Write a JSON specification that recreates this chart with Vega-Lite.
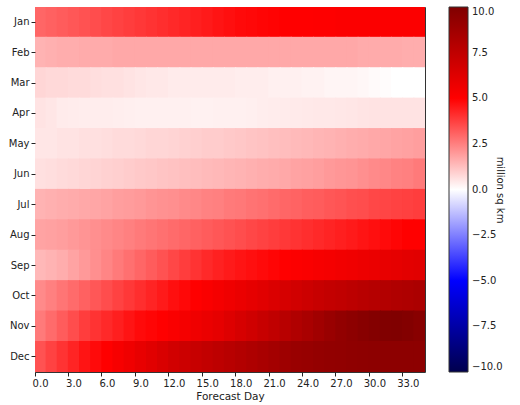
{
"$schema":"https://vega.github.io/schema/vega-lite/v6.json",
"width":390,"height":365,
"autosize":{"type":"none"},
"padding":{"left":35,"top":7,"right":95,"bottom":33},
"background":"white",
"config":{"font":"DejaVu Sans","view":{"stroke":"#333","strokeWidth":1},
"axis":{"grid":false,"domain":false,"tickColor":"#222","tickSize":4,"labelFontSize":10,"labelColor":"#222","titleFontSize":10.5,"titleFontWeight":"normal","titleColor":"#222"}},
"title":{"text":"SIE CFSv2 minus OBS","fontSize":14,"fontWeight":"bold","anchor":"middle","baseline":"alphabetic","offset":3,"color":"#111"},
"datasets":{"cells":[
{"m":"Jan","d":0,"v":3.0},{"m":"Jan","d":1,"v":3.1},{"m":"Jan","d":2,"v":3.2},{"m":"Jan","d":3,"v":3.3},{"m":"Jan","d":4,"v":3.4},{"m":"Jan","d":5,"v":3.5},{"m":"Jan","d":6,"v":3.6},{"m":"Jan","d":7,"v":3.7},{"m":"Jan","d":8,"v":3.8},{"m":"Jan","d":9,"v":3.9},{"m":"Jan","d":10,"v":4.0},{"m":"Jan","d":11,"v":4.1},{"m":"Jan","d":12,"v":4.2},{"m":"Jan","d":13,"v":4.3},{"m":"Jan","d":14,"v":4.4},{"m":"Jan","d":15,"v":4.5},{"m":"Jan","d":16,"v":4.6},{"m":"Jan","d":17,"v":4.7},{"m":"Jan","d":18,"v":4.8},{"m":"Jan","d":19,"v":4.85},{"m":"Jan","d":20,"v":4.9},{"m":"Jan","d":21,"v":4.95},{"m":"Jan","d":22,"v":5.0},{"m":"Jan","d":23,"v":5.0},{"m":"Jan","d":24,"v":5.0},{"m":"Jan","d":25,"v":5.05},{"m":"Jan","d":26,"v":5.05},{"m":"Jan","d":27,"v":5.1},{"m":"Jan","d":28,"v":5.1},{"m":"Jan","d":29,"v":5.1},{"m":"Jan","d":30,"v":5.1},{"m":"Jan","d":31,"v":5.1},{"m":"Jan","d":32,"v":5.1},{"m":"Jan","d":33,"v":5.1},{"m":"Jan","d":34,"v":5.1},
{"m":"Feb","d":0,"v":1.5},{"m":"Feb","d":1,"v":1.55},{"m":"Feb","d":2,"v":1.6},{"m":"Feb","d":3,"v":1.6},{"m":"Feb","d":4,"v":1.65},{"m":"Feb","d":5,"v":1.65},{"m":"Feb","d":6,"v":1.65},{"m":"Feb","d":7,"v":1.7},{"m":"Feb","d":8,"v":1.7},{"m":"Feb","d":9,"v":1.7},{"m":"Feb","d":10,"v":1.7},{"m":"Feb","d":11,"v":1.7},{"m":"Feb","d":12,"v":1.7},{"m":"Feb","d":13,"v":1.7},{"m":"Feb","d":14,"v":1.7},{"m":"Feb","d":15,"v":1.7},{"m":"Feb","d":16,"v":1.7},{"m":"Feb","d":17,"v":1.7},{"m":"Feb","d":18,"v":1.7},{"m":"Feb","d":19,"v":1.7},{"m":"Feb","d":20,"v":1.7},{"m":"Feb","d":21,"v":1.7},{"m":"Feb","d":22,"v":1.7},{"m":"Feb","d":23,"v":1.7},{"m":"Feb","d":24,"v":1.7},{"m":"Feb","d":25,"v":1.7},{"m":"Feb","d":26,"v":1.7},{"m":"Feb","d":27,"v":1.7},{"m":"Feb","d":28,"v":1.7},{"m":"Feb","d":29,"v":1.65},{"m":"Feb","d":30,"v":1.65},{"m":"Feb","d":31,"v":1.65},{"m":"Feb","d":32,"v":1.65},{"m":"Feb","d":33,"v":1.6},{"m":"Feb","d":34,"v":1.6},
{"m":"Mar","d":0,"v":0.8},{"m":"Mar","d":1,"v":0.75},{"m":"Mar","d":2,"v":0.75},{"m":"Mar","d":3,"v":0.7},{"m":"Mar","d":4,"v":0.7},{"m":"Mar","d":5,"v":0.65},{"m":"Mar","d":6,"v":0.6},{"m":"Mar","d":7,"v":0.6},{"m":"Mar","d":8,"v":0.55},{"m":"Mar","d":9,"v":0.5},{"m":"Mar","d":10,"v":0.45},{"m":"Mar","d":11,"v":0.45},{"m":"Mar","d":12,"v":0.4},{"m":"Mar","d":13,"v":0.4},{"m":"Mar","d":14,"v":0.4},{"m":"Mar","d":15,"v":0.4},{"m":"Mar","d":16,"v":0.4},{"m":"Mar","d":17,"v":0.4},{"m":"Mar","d":18,"v":0.35},{"m":"Mar","d":19,"v":0.35},{"m":"Mar","d":20,"v":0.35},{"m":"Mar","d":21,"v":0.3},{"m":"Mar","d":22,"v":0.3},{"m":"Mar","d":23,"v":0.3},{"m":"Mar","d":24,"v":0.25},{"m":"Mar","d":25,"v":0.25},{"m":"Mar","d":26,"v":0.2},{"m":"Mar","d":27,"v":0.2},{"m":"Mar","d":28,"v":0.2},{"m":"Mar","d":29,"v":0.15},{"m":"Mar","d":30,"v":0.1},{"m":"Mar","d":31,"v":0.05},{"m":"Mar","d":32,"v":0.0},{"m":"Mar","d":33,"v":0.0},{"m":"Mar","d":34,"v":0.0},
{"m":"Apr","d":0,"v":0.55},{"m":"Apr","d":1,"v":0.5},{"m":"Apr","d":2,"v":0.4},{"m":"Apr","d":3,"v":0.38},{"m":"Apr","d":4,"v":0.36},{"m":"Apr","d":5,"v":0.35},{"m":"Apr","d":6,"v":0.35},{"m":"Apr","d":7,"v":0.33},{"m":"Apr","d":8,"v":0.32},{"m":"Apr","d":9,"v":0.3},{"m":"Apr","d":10,"v":0.3},{"m":"Apr","d":11,"v":0.3},{"m":"Apr","d":12,"v":0.3},{"m":"Apr","d":13,"v":0.3},{"m":"Apr","d":14,"v":0.28},{"m":"Apr","d":15,"v":0.28},{"m":"Apr","d":16,"v":0.3},{"m":"Apr","d":17,"v":0.3},{"m":"Apr","d":18,"v":0.3},{"m":"Apr","d":19,"v":0.32},{"m":"Apr","d":20,"v":0.35},{"m":"Apr","d":21,"v":0.38},{"m":"Apr","d":22,"v":0.4},{"m":"Apr","d":23,"v":0.42},{"m":"Apr","d":24,"v":0.44},{"m":"Apr","d":25,"v":0.45},{"m":"Apr","d":26,"v":0.46},{"m":"Apr","d":27,"v":0.48},{"m":"Apr","d":28,"v":0.5},{"m":"Apr","d":29,"v":0.52},{"m":"Apr","d":30,"v":0.54},{"m":"Apr","d":31,"v":0.55},{"m":"Apr","d":32,"v":0.55},{"m":"Apr","d":33,"v":0.55},{"m":"Apr","d":34,"v":0.55},
{"m":"May","d":0,"v":0.5},{"m":"May","d":1,"v":0.5},{"m":"May","d":2,"v":0.55},{"m":"May","d":3,"v":0.55},{"m":"May","d":4,"v":0.6},{"m":"May","d":5,"v":0.6},{"m":"May","d":6,"v":0.65},{"m":"May","d":7,"v":0.7},{"m":"May","d":8,"v":0.7},{"m":"May","d":9,"v":0.75},{"m":"May","d":10,"v":0.8},{"m":"May","d":11,"v":0.8},{"m":"May","d":12,"v":0.85},{"m":"May","d":13,"v":0.9},{"m":"May","d":14,"v":0.95},{"m":"May","d":15,"v":1.0},{"m":"May","d":16,"v":1.0},{"m":"May","d":17,"v":1.05},{"m":"May","d":18,"v":1.1},{"m":"May","d":19,"v":1.15},{"m":"May","d":20,"v":1.2},{"m":"May","d":21,"v":1.25},{"m":"May","d":22,"v":1.3},{"m":"May","d":23,"v":1.35},{"m":"May","d":24,"v":1.4},{"m":"May","d":25,"v":1.45},{"m":"May","d":26,"v":1.5},{"m":"May","d":27,"v":1.55},{"m":"May","d":28,"v":1.6},{"m":"May","d":29,"v":1.65},{"m":"May","d":30,"v":1.7},{"m":"May","d":31,"v":1.75},{"m":"May","d":32,"v":1.8},{"m":"May","d":33,"v":1.85},{"m":"May","d":34,"v":1.9},
{"m":"Jun","d":0,"v":0.6},{"m":"Jun","d":1,"v":0.65},{"m":"Jun","d":2,"v":0.7},{"m":"Jun","d":3,"v":0.75},{"m":"Jun","d":4,"v":0.8},{"m":"Jun","d":5,"v":0.85},{"m":"Jun","d":6,"v":0.9},{"m":"Jun","d":7,"v":0.95},{"m":"Jun","d":8,"v":1.0},{"m":"Jun","d":9,"v":1.05},{"m":"Jun","d":10,"v":1.1},{"m":"Jun","d":11,"v":1.15},{"m":"Jun","d":12,"v":1.2},{"m":"Jun","d":13,"v":1.25},{"m":"Jun","d":14,"v":1.3},{"m":"Jun","d":15,"v":1.35},{"m":"Jun","d":16,"v":1.4},{"m":"Jun","d":17,"v":1.45},{"m":"Jun","d":18,"v":1.5},{"m":"Jun","d":19,"v":1.55},{"m":"Jun","d":20,"v":1.6},{"m":"Jun","d":21,"v":1.65},{"m":"Jun","d":22,"v":1.7},{"m":"Jun","d":23,"v":1.8},{"m":"Jun","d":24,"v":1.85},{"m":"Jun","d":25,"v":1.9},{"m":"Jun","d":26,"v":2.0},{"m":"Jun","d":27,"v":2.05},{"m":"Jun","d":28,"v":2.1},{"m":"Jun","d":29,"v":2.2},{"m":"Jun","d":30,"v":2.3},{"m":"Jun","d":31,"v":2.35},{"m":"Jun","d":32,"v":2.45},{"m":"Jun","d":33,"v":2.5},{"m":"Jun","d":34,"v":2.6},
{"m":"Jul","d":0,"v":1.5},{"m":"Jul","d":1,"v":1.55},{"m":"Jul","d":2,"v":1.6},{"m":"Jul","d":3,"v":1.65},{"m":"Jul","d":4,"v":1.7},{"m":"Jul","d":5,"v":1.75},{"m":"Jul","d":6,"v":1.8},{"m":"Jul","d":7,"v":1.9},{"m":"Jul","d":8,"v":1.95},{"m":"Jul","d":9,"v":2.0},{"m":"Jul","d":10,"v":2.1},{"m":"Jul","d":11,"v":2.15},{"m":"Jul","d":12,"v":2.2},{"m":"Jul","d":13,"v":2.3},{"m":"Jul","d":14,"v":2.35},{"m":"Jul","d":15,"v":2.45},{"m":"Jul","d":16,"v":2.5},{"m":"Jul","d":17,"v":2.6},{"m":"Jul","d":18,"v":2.65},{"m":"Jul","d":19,"v":2.75},{"m":"Jul","d":20,"v":2.8},{"m":"Jul","d":21,"v":2.9},{"m":"Jul","d":22,"v":3.0},{"m":"Jul","d":23,"v":3.05},{"m":"Jul","d":24,"v":3.15},{"m":"Jul","d":25,"v":3.2},{"m":"Jul","d":26,"v":3.3},{"m":"Jul","d":27,"v":3.35},{"m":"Jul","d":28,"v":3.45},{"m":"Jul","d":29,"v":3.5},{"m":"Jul","d":30,"v":3.6},{"m":"Jul","d":31,"v":3.65},{"m":"Jul","d":32,"v":3.7},{"m":"Jul","d":33,"v":3.75},{"m":"Jul","d":34,"v":3.8},
{"m":"Aug","d":0,"v":1.8},{"m":"Aug","d":1,"v":1.85},{"m":"Aug","d":2,"v":1.9},{"m":"Aug","d":3,"v":2.0},{"m":"Aug","d":4,"v":2.1},{"m":"Aug","d":5,"v":2.2},{"m":"Aug","d":6,"v":2.3},{"m":"Aug","d":7,"v":2.4},{"m":"Aug","d":8,"v":2.5},{"m":"Aug","d":9,"v":2.6},{"m":"Aug","d":10,"v":2.7},{"m":"Aug","d":11,"v":2.8},{"m":"Aug","d":12,"v":2.9},{"m":"Aug","d":13,"v":3.0},{"m":"Aug","d":14,"v":3.1},{"m":"Aug","d":15,"v":3.2},{"m":"Aug","d":16,"v":3.3},{"m":"Aug","d":17,"v":3.4},{"m":"Aug","d":18,"v":3.5},{"m":"Aug","d":19,"v":3.6},{"m":"Aug","d":20,"v":3.7},{"m":"Aug","d":21,"v":3.8},{"m":"Aug","d":22,"v":3.9},{"m":"Aug","d":23,"v":4.0},{"m":"Aug","d":24,"v":4.1},{"m":"Aug","d":25,"v":4.2},{"m":"Aug","d":26,"v":4.3},{"m":"Aug","d":27,"v":4.4},{"m":"Aug","d":28,"v":4.5},{"m":"Aug","d":29,"v":4.6},{"m":"Aug","d":30,"v":4.7},{"m":"Aug","d":31,"v":4.8},{"m":"Aug","d":32,"v":4.9},{"m":"Aug","d":33,"v":5.0},{"m":"Aug","d":34,"v":5.0},
{"m":"Sep","d":0,"v":1.4},{"m":"Sep","d":1,"v":1.5},{"m":"Sep","d":2,"v":1.6},{"m":"Sep","d":3,"v":1.8},{"m":"Sep","d":4,"v":2.0},{"m":"Sep","d":5,"v":2.2},{"m":"Sep","d":6,"v":2.4},{"m":"Sep","d":7,"v":2.6},{"m":"Sep","d":8,"v":2.8},{"m":"Sep","d":9,"v":3.0},{"m":"Sep","d":10,"v":3.2},{"m":"Sep","d":11,"v":3.4},{"m":"Sep","d":12,"v":3.6},{"m":"Sep","d":13,"v":3.8},{"m":"Sep","d":14,"v":4.0},{"m":"Sep","d":15,"v":4.2},{"m":"Sep","d":16,"v":4.35},{"m":"Sep","d":17,"v":4.5},{"m":"Sep","d":18,"v":4.6},{"m":"Sep","d":19,"v":4.7},{"m":"Sep","d":20,"v":4.8},{"m":"Sep","d":21,"v":4.9},{"m":"Sep","d":22,"v":5.0},{"m":"Sep","d":23,"v":5.1},{"m":"Sep","d":24,"v":5.2},{"m":"Sep","d":25,"v":5.3},{"m":"Sep","d":26,"v":5.4},{"m":"Sep","d":27,"v":5.5},{"m":"Sep","d":28,"v":5.6},{"m":"Sep","d":29,"v":5.7},{"m":"Sep","d":30,"v":5.8},{"m":"Sep","d":31,"v":5.9},{"m":"Sep","d":32,"v":6.0},{"m":"Sep","d":33,"v":6.1},{"m":"Sep","d":34,"v":6.2},
{"m":"Oct","d":0,"v":2.3},{"m":"Oct","d":1,"v":2.5},{"m":"Oct","d":2,"v":2.7},{"m":"Oct","d":3,"v":2.9},{"m":"Oct","d":4,"v":3.1},{"m":"Oct","d":5,"v":3.3},{"m":"Oct","d":6,"v":3.5},{"m":"Oct","d":7,"v":3.7},{"m":"Oct","d":8,"v":3.9},{"m":"Oct","d":9,"v":4.1},{"m":"Oct","d":10,"v":4.3},{"m":"Oct","d":11,"v":4.5},{"m":"Oct","d":12,"v":4.7},{"m":"Oct","d":13,"v":4.85},{"m":"Oct","d":14,"v":5.0},{"m":"Oct","d":15,"v":5.2},{"m":"Oct","d":16,"v":5.4},{"m":"Oct","d":17,"v":5.6},{"m":"Oct","d":18,"v":5.8},{"m":"Oct","d":19,"v":6.0},{"m":"Oct","d":20,"v":6.2},{"m":"Oct","d":21,"v":6.4},{"m":"Oct","d":22,"v":6.6},{"m":"Oct","d":23,"v":6.8},{"m":"Oct","d":24,"v":7.0},{"m":"Oct","d":25,"v":7.2},{"m":"Oct","d":26,"v":7.35},{"m":"Oct","d":27,"v":7.5},{"m":"Oct","d":28,"v":7.65},{"m":"Oct","d":29,"v":7.8},{"m":"Oct","d":30,"v":7.9},{"m":"Oct","d":31,"v":8.0},{"m":"Oct","d":32,"v":8.1},{"m":"Oct","d":33,"v":8.2},{"m":"Oct","d":34,"v":8.3},
{"m":"Nov","d":0,"v":2.6},{"m":"Nov","d":1,"v":2.9},{"m":"Nov","d":2,"v":3.2},{"m":"Nov","d":3,"v":3.5},{"m":"Nov","d":4,"v":3.8},{"m":"Nov","d":5,"v":4.0},{"m":"Nov","d":6,"v":4.2},{"m":"Nov","d":7,"v":4.4},{"m":"Nov","d":8,"v":4.6},{"m":"Nov","d":9,"v":4.8},{"m":"Nov","d":10,"v":4.9},{"m":"Nov","d":11,"v":5.0},{"m":"Nov","d":12,"v":5.2},{"m":"Nov","d":13,"v":5.4},{"m":"Nov","d":14,"v":5.6},{"m":"Nov","d":15,"v":5.8},{"m":"Nov","d":16,"v":6.0},{"m":"Nov","d":17,"v":6.3},{"m":"Nov","d":18,"v":6.6},{"m":"Nov","d":19,"v":6.9},{"m":"Nov","d":20,"v":7.2},{"m":"Nov","d":21,"v":7.5},{"m":"Nov","d":22,"v":7.8},{"m":"Nov","d":23,"v":8.1},{"m":"Nov","d":24,"v":8.4},{"m":"Nov","d":25,"v":8.7},{"m":"Nov","d":26,"v":9.0},{"m":"Nov","d":27,"v":9.3},{"m":"Nov","d":28,"v":9.5},{"m":"Nov","d":29,"v":9.7},{"m":"Nov","d":30,"v":9.85},{"m":"Nov","d":31,"v":9.95},{"m":"Nov","d":32,"v":10.0},{"m":"Nov","d":33,"v":9.9},{"m":"Nov","d":34,"v":9.7},
{"m":"Dec","d":0,"v":3.4},{"m":"Dec","d":1,"v":3.7},{"m":"Dec","d":2,"v":4.0},{"m":"Dec","d":3,"v":4.3},{"m":"Dec","d":4,"v":4.6},{"m":"Dec","d":5,"v":4.8},{"m":"Dec","d":6,"v":5.0},{"m":"Dec","d":7,"v":5.3},{"m":"Dec","d":8,"v":5.6},{"m":"Dec","d":9,"v":5.9},{"m":"Dec","d":10,"v":6.2},{"m":"Dec","d":11,"v":6.5},{"m":"Dec","d":12,"v":6.8},{"m":"Dec","d":13,"v":7.0},{"m":"Dec","d":14,"v":7.2},{"m":"Dec","d":15,"v":7.4},{"m":"Dec","d":16,"v":7.6},{"m":"Dec","d":17,"v":7.8},{"m":"Dec","d":18,"v":8.0},{"m":"Dec","d":19,"v":8.2},{"m":"Dec","d":20,"v":8.4},{"m":"Dec","d":21,"v":8.6},{"m":"Dec","d":22,"v":8.8},{"m":"Dec","d":23,"v":9.0},{"m":"Dec","d":24,"v":9.1},{"m":"Dec","d":25,"v":9.2},{"m":"Dec","d":26,"v":9.3},{"m":"Dec","d":27,"v":9.35},{"m":"Dec","d":28,"v":9.4},{"m":"Dec","d":29,"v":9.45},{"m":"Dec","d":30,"v":9.5},{"m":"Dec","d":31,"v":9.5},{"m":"Dec","d":32,"v":9.5},{"m":"Dec","d":33,"v":9.5},{"m":"Dec","d":34,"v":9.5}
]},
"data":{"name":"cells"},
"mark":{"type":"rect","width":{"band":1.1},"height":{"band":1.04},"clip":true},
"encoding":{
"x":{"field":"d","type":"ordinal","sort":"ascending","scale":{"paddingInner":0,"paddingOuter":0},
"axis":{"values":[0,3,6,9,12,15,18,21,24,27,30,33],"bandPosition":0,"labelAngle":0,"labelExpr":"format(datum.value,'.1f')","title":"Forecast Day","titlePadding":3,"labelPadding":2}},
"y":{"field":"m","type":"ordinal","sort":["Jan","Feb","Mar","Apr","May","Jun","Jul","Aug","Sep","Oct","Nov","Dec"],"scale":{"paddingInner":0,"paddingOuter":0},
"axis":{"title":null,"labelPadding":2}},
"color":{"field":"v","type":"quantitative",
"scale":{"type":"linear","domain":[-10,-5,0,5,10],"range":["#00004d","#0000ff","#ffffff","#ff0000","#800000"],"interpolate":"rgb"},
"legend":{"type":"gradient","title":"million sq km","orient":"none","legendX":414,"legendY":0,"direction":"vertical","gradientLength":365,"gradientThickness":19,"gradientStrokeColor":"#333","gradientStrokeWidth":1,"values":[-10,-7.5,-5,-2.5,0,2.5,5,7.5,10],"format":".1f","labelFontSize":10,"labelColor":"#222","labelOffset":4,"titleOrient":"right","titleAngle":-90,"titleFontSize":10,"titleFontWeight":"normal","titleColor":"#222","titleAnchor":"middle","titleBaseline":"top","titlePadding":2,"labelOverlap":false}}
}
}
